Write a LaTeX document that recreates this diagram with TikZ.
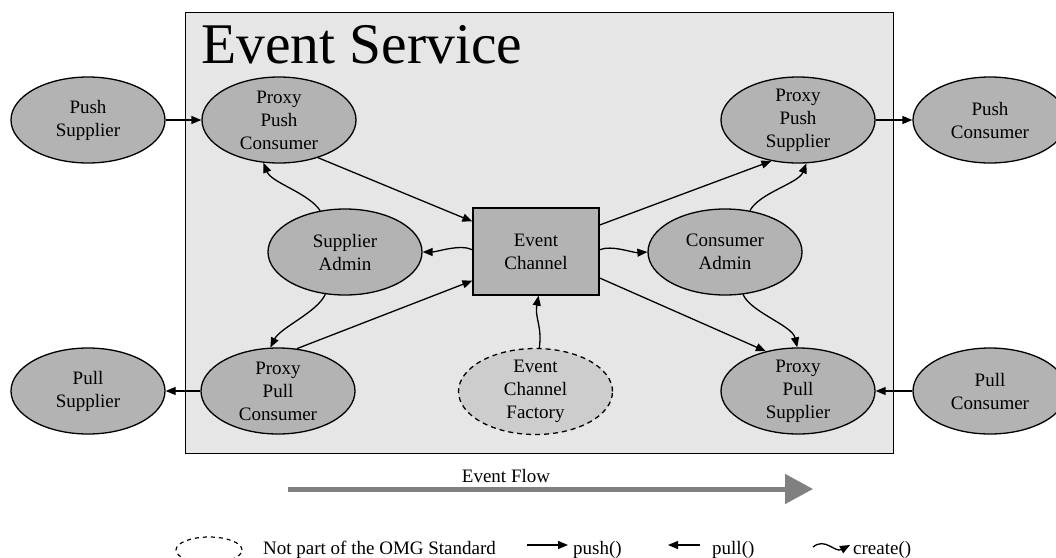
\documentclass[tikz,border=0pt]{standalone}
\usepackage{fontspec}
\setmainfont{Liberation Serif}
\usetikzlibrary{arrows.meta,shapes.geometric,calc}
\definecolor{svcbg}{RGB}{230,230,230}
\definecolor{nodegray}{RGB}{179,179,179}
\definecolor{facgray}{RGB}{205,205,205}
\definecolor{flowgray}{RGB}{128,128,128}
\begin{document}
\begin{tikzpicture}[x=1pt,y=-1pt,
  every node/.style={font=\fontsize{19}{23}\selectfont},
  ell/.style={ellipse, draw, line width=1.3pt, fill=nodegray, minimum width=154pt, minimum height=86pt, inner sep=-3pt, align=center},
  chanbox/.style={rectangle, draw, line width=1.3pt, fill=nodegray, minimum width=126pt, minimum height=87pt, inner sep=0pt, align=center},
  push/.style={line width=1.3pt, -{Triangle[length=10pt,width=8pt]}},
  create/.style={line width=1.3pt, -{Triangle[length=10pt,width=8pt]}},
  lbl/.style={anchor=base west, inner sep=0pt}
]
\fill[white] (0,0) rectangle (1056,557);
\useasboundingbox (0,0) rectangle (1056,557);

% service frame
\node[draw, line width=1.3pt, fill=svcbg, minimum width=708pt, minimum height=441pt, anchor=north west, inner sep=0pt] (svc) at (185,12) {};
\node[lbl, font=\fontsize{57.5}{60}\selectfont] (title) at (201,63) {Event Service};

% nodes
\node[ell] (ps) at (88,120) {Push\\Supplier};
\node[ell] (ppc) at (279,120) {Proxy\\Push\\Consumer};
\node[ell] (pps) at (798,120) {Proxy\\Push\\Supplier};
\node[ell] (pc) at (990,120) {Push\\Consumer};
\node[ell] (sa) at (345,252) {Supplier\\Admin};
\node[ell] (ca) at (725,252) {Consumer\\Admin};
\node[chanbox] (ec) at (536,251.5) {Event\\Channel};
\node[ell, dash pattern=on 5pt off 4pt, fill=facgray] (ecf) at (535.5,391.5) {Event\\Channel\\Factory};
\node[ell] (pls) at (88,391) {Pull\\Supplier};
\node[ell] (pplc) at (278,391) {Proxy\\Pull\\Consumer};
\node[ell] (ppls) at (798,391) {Proxy\\Pull\\Supplier};
\node[ell] (plc) at (990,391) {Pull\\Consumer};

% straight connectors
\draw[push] (ps.east) -- (ppc.west);
\draw[push] (ppc.-44) -- ($(ec.north west)!0.16!(ec.south west)$);
\draw[push] (pplc.66) -- ($(ec.north west)!0.83!(ec.south west)$);
\draw[push] ($(ec.north east)!0.2!(ec.south east)$) -- (pps.-123);
\draw[push] ($(ec.north east)!0.8!(ec.south east)$) -- (ppls.129);
\draw[push] (pps.east) -- (pc.west);
\draw[push] (pplc.west) -- (pls.east);
\draw[push] (plc.west) -- (ppls.east);

% create connectors
\draw[create] (sa.121) .. controls +(-12,-18) and +(8,20) .. (ppc.-110);
\draw[create] (sa.-115) .. controls +(-8,18) and +(10,-20) .. (pplc.100);
\draw[create] (ca.59) .. controls +(10,-18) and +(-8,20) .. (pps.-79);
\draw[create] (ca.-67) .. controls +(8,18) and +(-5,-22) .. (ppls.91);
\draw[create] ($(ec.north west)!0.48!(ec.south west)$) .. controls +(-12,-6) and +(14,0) .. (sa.east);
\draw[create] ($(ec.north east)!0.48!(ec.south east)$) .. controls +(12,-5) and +(-14,1) .. (ca.west);
\draw[create] (ecf.85) .. controls +(3,-22) and +(-4,22) .. ($(ec.south west)!0.52!(ec.south east)$);

% event flow
\coordinate (ef1) at (288,489);
\coordinate (ef2) at (813,489);
\draw[line width=5pt, flowgray, -{Triangle[length=28pt,width=29pt]}] (ef1) -- (ef2);
\node[anchor=base, inner sep=0pt] (eft) at (506,482) {Event Flow};

% legend
\node[ellipse, draw, line width=1.2pt, dash pattern=on 4pt off 4pt, minimum width=66pt, minimum height=26pt, inner sep=0pt] (legell) at (209,550) {};
\node[lbl] (legtxt) at (263,554) {Not part of the OMG Standard};
\coordinate (lp1) at (527,545);
\coordinate (lp2) at (568,545);
\draw[push] (lp1) -- (lp2);
\node[lbl] (lpt) at (573,554) {push()};
\coordinate (ll1) at (700,545);
\coordinate (ll2) at (668,545);
\draw[push] (ll1) -- (ll2);
\node[lbl] (llt) at (712,554) {pull()};
\coordinate (lc1) at (813,547);
\coordinate (lc2) at (850,545);
\draw[create] (lc1) .. controls (825,537) and (835,553) .. (lc2);
\node[lbl] (lct) at (853,554) {create()};
\end{tikzpicture}
\end{document}
